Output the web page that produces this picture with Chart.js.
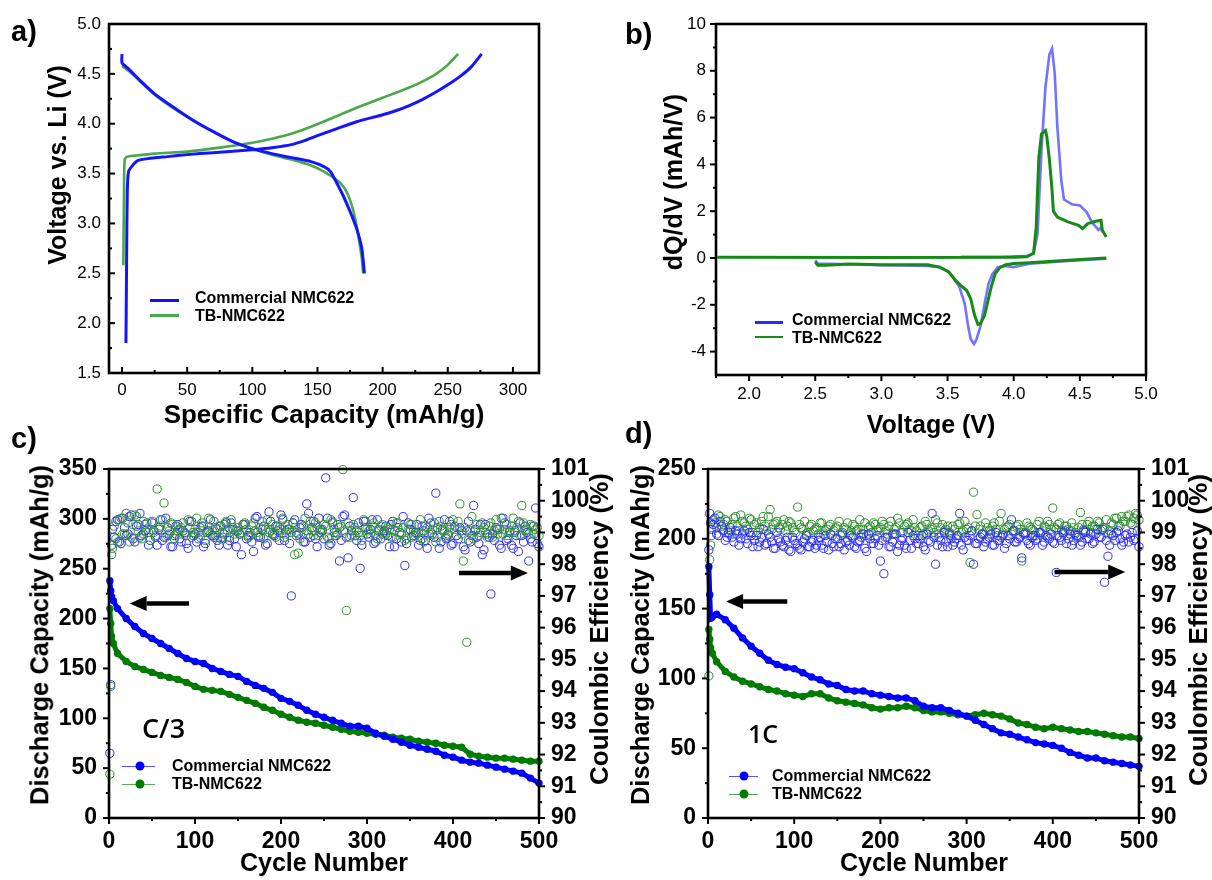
<!DOCTYPE html>
<html><head><meta charset="utf-8">
<script src="https://cdn.jsdelivr.net/npm/chart.js@4.4.1/dist/chart.umd.min.js"></script>
<style>
html,body{margin:0;padding:0;background:#fff;}
#wrap{position:relative;width:1212px;height:880px;overflow:hidden;font-family:"Liberation Sans",Arial,sans-serif;color:#000;}
canvas{position:absolute;}
.t{position:absolute;white-space:nowrap;line-height:1;transform:translate(-50%,-50%);font-weight:bold;}
.r{transform:translate(-50%,-50%) rotate(-90deg);}
.lab{position:absolute;font-weight:bold;font-size:29px;line-height:1;transform:translateY(-50%);}
.lg{position:absolute;font-weight:bold;font-size:16px;line-height:1;transform:translateY(-50%);white-space:nowrap;}
.ln{position:absolute;}
.dot{position:absolute;border-radius:50%;width:9px;height:9px;transform:translate(-50%,-50%);}
.rate{position:absolute;font-family:"Open Sans",sans-serif;font-weight:600;line-height:1;transform:translateY(-50%);}
</style></head><body><div id="wrap">
<canvas id="ca" width="606" height="440" style="left:0;top:0"></canvas>
<canvas id="cb" width="606" height="440" style="left:606px;top:0"></canvas>
<canvas id="cc" width="606" height="440" style="left:0;top:440px"></canvas>
<canvas id="cd" width="606" height="440" style="left:606px;top:440px"></canvas>

<div class="lab" style="left:11px;top:31px">a)</div>
<div class="lab" style="left:625px;top:34px">b)</div>
<div class="lab" style="left:11px;top:438px">c)</div>
<div class="lab" style="left:625px;top:433px">d)</div>

<div class="t r" style="left:57px;top:165px;font-size:25px">Voltage vs. Li (V)</div>
<div class="t" style="left:324px;top:414px;font-size:26px">Specific Capacity (mAh/g)</div>
<div class="t r" style="left:673px;top:182px;font-size:25px">dQ/dV (mAh/V)</div>
<div class="t" style="left:931px;top:424px;font-size:25px">Voltage (V)</div>
<div class="t r" style="left:40px;top:635px;font-size:25.5px">Discharge Capacity (mAh/g)</div>
<div class="t r" style="left:599px;top:629px;font-size:26px">Coulombic Efficiency (%)</div>
<div class="t" style="left:324px;top:862px;font-size:25px">Cycle Number</div>
<div class="t r" style="left:641px;top:635px;font-size:25.5px">Discharge Capacity (mAh/g)</div>
<div class="t r" style="left:1198px;top:630px;font-size:26px">Coulombic Efficiency (%)</div>
<div class="t" style="left:924px;top:862px;font-size:25px">Cycle Number</div>

<div class="rate" style="left:142px;top:727px;font-size:27px">C/3</div>
<div class="rate" style="left:748px;top:733px;font-size:25px">1C</div>

<!-- legends -->
<div class="ln" style="left:150px;top:298.5px;width:29px;height:3px;background:#1010ff"></div>
<div class="lg" style="left:195px;top:298px">Commercial NMC622</div>
<div class="ln" style="left:150px;top:314px;width:29px;height:2.5px;background:#4aa84a"></div>
<div class="lg" style="left:195px;top:316px">TB-NMC622</div>

<div class="ln" style="left:755px;top:320.5px;width:28px;height:3.5px;background:#2a2aff"></div>
<div class="lg" style="left:792px;top:320px">Commercial NMC622</div>
<div class="ln" style="left:755px;top:336px;width:28px;height:2px;background:#178c17"></div>
<div class="lg" style="left:792px;top:338px">TB-NMC622</div>

<div class="ln" style="left:122px;top:765.5px;width:33px;height:1.5px;background:#5555ff"></div>
<div class="dot" style="left:140px;top:766px;background:#0000ff"></div>
<div class="lg" style="left:172px;top:766px">Commercial NMC622</div>
<div class="ln" style="left:122px;top:783.5px;width:33px;height:1.5px;background:#5aa85a"></div>
<div class="dot" style="left:140px;top:784px;background:#007a00"></div>
<div class="lg" style="left:172px;top:784px">TB-NMC622</div>

<div class="ln" style="left:729px;top:775.5px;width:29px;height:1.5px;background:#5555ff"></div>
<div class="dot" style="left:744px;top:776px;background:#0000ff"></div>
<div class="lg" style="left:772px;top:776px">Commercial NMC622</div>
<div class="ln" style="left:729px;top:793.5px;width:29px;height:1.5px;background:#5aa85a"></div>
<div class="dot" style="left:744px;top:794px;background:#007a00"></div>
<div class="lg" style="left:772px;top:794px">TB-NMC622</div>
</div>
<script>
// ================= DATA =================
// Panel a: voltage profiles (capacity mAh/g, voltage V)
const aCommChargeCap = [3, 3.5, 4, 5, 8, 12, 20, 35, 50, 70, 90, 100, 115, 130, 140, 150, 165, 180, 200, 210, 220, 230, 240, 250, 260, 268, 276];
const aCommChargeV   = [1.80, 2.60, 3.30, 3.52, 3.58, 3.63, 3.65, 3.67, 3.69, 3.71, 3.73, 3.74, 3.76, 3.79, 3.83, 3.88, 3.95, 4.02, 4.09, 4.13, 4.18, 4.24, 4.31, 4.39, 4.48, 4.57, 4.70];
const aCommDisCap    = [0, 0, 5, 15, 25, 40, 55, 70, 85, 100, 115, 130, 145, 155, 160, 165, 170, 175, 180, 184, 186];
const aCommDisV      = [4.70, 4.61, 4.55, 4.42, 4.30, 4.16, 4.03, 3.92, 3.82, 3.75, 3.70, 3.66, 3.62, 3.57, 3.52, 3.40, 3.27, 3.12, 2.95, 2.75, 2.50];
const aTBChargeCap   = [1, 1.5, 2, 4, 10, 25, 50, 75, 100, 115, 130, 145, 160, 180, 200, 220, 230, 240, 250, 258];
const aTBChargeV     = [2.58, 3.30, 3.64, 3.67, 3.68, 3.70, 3.72, 3.76, 3.81, 3.85, 3.90, 3.97, 4.05, 4.16, 4.26, 4.36, 4.42, 4.49, 4.59, 4.70];
const aTBDisCap      = [0, 5, 15, 25, 40, 55, 70, 85, 100, 115, 130, 145, 155, 162, 168, 173, 177, 180, 182, 184, 185];
const aTBDisV        = [4.58, 4.53, 4.41, 4.29, 4.15, 4.03, 3.92, 3.82, 3.75, 3.69, 3.64, 3.58, 3.52, 3.46, 3.40, 3.30, 3.15, 2.98, 2.82, 2.65, 2.50];
const aXTicks = [0, 50, 100, 150, 200, 250, 300];
const aYTicks = [1.5, 2.0, 2.5, 3.0, 3.5, 4.0, 4.5, 5.0];

// Panel b: dQ/dV (voltage V, dQ/dV mAh/V)
const bCommChargeV = [3.60, 3.90, 4.10, 4.15, 4.18, 4.21, 4.24, 4.27, 4.29, 4.31, 4.33, 4.36, 4.38, 4.44, 4.50, 4.55, 4.59, 4.64, 4.66, 4.67];
const bCommChargeQ = [0.05, 0.05, 0.08, 0.2, 1.0, 4.6, 7.3, 8.7, 8.95, 7.9, 5.6, 3.3, 2.5, 2.3, 2.25, 1.97, 1.54, 1.2, 1.3, 1.1];
const bCommDisV    = [4.70, 4.41, 4.12, 4.00, 3.94, 3.88, 3.84, 3.81, 3.78, 3.75, 3.72, 3.70, 3.675, 3.655, 3.63, 3.59, 3.54, 3.50, 3.44, 3.35, 3.17, 3.00, 2.76, 2.52, 2.50];
const bCommDisQ    = [-0.03, -0.13, -0.24, -0.39, -0.34, -0.39, -0.67, -1.1, -1.96, -2.89, -3.46, -3.67, -3.46, -2.89, -1.96, -1.24, -0.81, -0.56, -0.39, -0.34, -0.32, -0.31, -0.27, -0.24, -0.1];
const bTBChargeV   = [1.76, 3.00, 4.00, 4.10, 4.15, 4.17, 4.19, 4.21, 4.24, 4.25, 4.27, 4.29, 4.30, 4.33, 4.41, 4.49, 4.52, 4.56, 4.62, 4.66, 4.67, 4.70];
const bTBChargeQ   = [0.03, 0.02, 0.03, 0.05, 0.2, 1.3, 4.3, 5.3, 5.45, 5.2, 4.2, 2.9, 2.0, 1.75, 1.54, 1.4, 1.26, 1.47, 1.57, 1.61, 1.19, 0.9];
const bTBDisV      = [4.70, 4.41, 4.12, 4.00, 3.94, 3.90, 3.86, 3.83, 3.80, 3.78, 3.75, 3.73, 3.705, 3.675, 3.645, 3.60, 3.56, 3.51, 3.44, 3.35, 3.17, 3.00, 2.76, 2.58, 2.52, 2.50];
const bTBDisQ      = [0.0, -0.1, -0.2, -0.24, -0.29, -0.39, -0.67, -1.24, -1.96, -2.46, -2.79, -2.84, -2.46, -1.74, -1.39, -1.17, -0.96, -0.6, -0.39, -0.29, -0.29, -0.29, -0.26, -0.31, -0.31, -0.17];
const bXTicks = [2.0, 2.5, 3.0, 3.5, 4.0, 4.5, 5.0];
const bYTicks = [-4, -2, 0, 2, 4, 6, 8, 10];

// Panels c, d: cycling. Capacity sampled at cycles 1,2,3,5,10,20,...,500
const capCycles = [1, 2, 3, 5];
for (let c = 10; c <= 500; c += 10) capCycles.push(c);
const cCommCap = [238, 228, 222, 218,
  210, 200, 192, 185, 180, 175, 170, 165, 160, 157,
  155, 150, 147, 144, 142, 137, 133, 130, 126, 120,
  117, 113, 108, 104, 101, 98, 95, 92, 92, 90,
  85, 82, 79, 76, 73, 71, 69, 67, 63, 61,
  58, 56, 55, 53, 51, 49, 47, 45, 40, 35];
const cTBCap = [210, 195, 182, 175,
  165, 157, 152, 149, 146, 143, 141, 139, 136, 132,
  129, 128, 127, 124, 121, 118, 115, 111, 108, 104,
  101, 98, 96, 95, 93, 91, 89, 87, 86, 85,
  84, 83, 81, 80, 79, 77, 76, 75, 73, 72,
  71, 64, 62, 61, 60, 60, 59, 58, 57, 57];
const dCommCap = [180, 160, 143, 144,
  146, 142, 136, 129, 123, 118, 113, 110, 108, 107,
  104, 101, 99, 96, 95, 92, 91, 91, 89, 88,
  87, 86, 86, 84, 80, 79, 79, 77, 75, 73,
  70, 67, 64, 61, 60, 58, 56, 54, 53, 52,
  50, 47, 45, 43, 43, 41, 40, 39, 38, 37];
const dTBCap = [135, 128, 122, 118,
  112, 105, 101, 98, 96, 94, 92, 91, 89, 88,
  87, 89, 89, 86, 84, 83, 82, 81, 79, 78,
  79, 79, 80, 79, 77, 76, 76, 75, 74, 73,
  74, 75, 74, 73, 71, 68, 67, 65, 64, 65,
  64, 63, 62, 62, 61, 60, 59, 58, 58, 57];

// Coulombic efficiency, set 1 at cycles 1,2,3,4,8,...,500 ; set 2 at cycles 6,10,...,498
const ceCycles = [1, 2, 3];
for (let c = 4; c <= 500; c += 4) ceCycles.push(c);
const ceCycles2 = [];
for (let c = 6; c <= 498; c += 4) ceCycles2.push(c);

const cCommCE = [92.04, 94.20, 98.60,
 99.10, 99.35, 98.70, 99.45, 98.90, 99.50, 98.80, 99.20, 99.60, 98.95,
 99.30, 98.75, 99.05, 98.60, 99.40, 98.85, 99.15, 98.55, 98.90, 99.25,
 98.70, 99.00, 98.50, 99.35, 98.95, 98.80, 99.20, 98.65, 99.05, 98.90,
 99.15, 98.60, 98.85, 99.30, 98.75, 99.10, 98.55, 98.95, 99.25, 98.80,
 99.00, 98.40, 99.50, 98.85, 99.20, 98.65, 99.35, 98.90, 99.05, 99.55,
 98.75, 99.10, 97.00, 99.40, 98.95, 99.25, 98.70, 99.60, 99.15, 98.80,
 99.45, 99.05, 100.72, 98.60, 99.30, 98.90, 98.10, 99.50, 98.85, 99.20,
 100.10, 98.75, 97.87, 99.35, 98.95, 99.10, 98.65, 99.40, 98.80, 99.05,
 98.90, 99.25, 98.55, 99.15, 98.70, 97.96, 99.30, 98.85, 99.00, 98.60,
 99.20, 98.75, 99.45, 98.95, 100.24, 98.50, 99.10, 98.80, 99.35, 98.65,
 98.90, 99.15, 98.55, 99.05, 98.70, 99.85, 98.85, 99.25, 98.45, 98.95,
 97.06, 98.75, 99.10, 98.50, 99.30, 98.80, 98.60, 99.05, 98.40, 98.90,
 99.20, 98.10, 98.70, 99.77, 98.55];
const cCommCE2 = [
 98.85, 99.40, 98.65, 99.15, 98.95, 99.55, 98.70, 99.25, 98.90, 99.05,
 98.60, 99.30, 98.85, 99.10, 98.75, 99.45, 98.95, 98.55, 99.20, 98.80,
 99.05, 98.65, 99.35, 98.90, 98.70, 99.15, 98.55, 99.00, 99.40, 98.85,
 98.75, 99.20, 98.95, 98.60, 99.30, 98.80, 99.05, 98.30, 99.25, 98.90,
 98.70, 99.45, 98.85, 99.10, 98.60, 99.65, 98.95, 99.20, 98.75, 99.40,
 99.05, 98.65, 99.30, 98.90, 99.15, 98.70, 99.90, 98.85, 99.35, 98.55,
 99.10, 98.80, 99.45, 98.65, 99.00, 99.25, 98.75, 99.55, 98.20, 99.05,
 98.90, 99.30, 98.60, 99.15, 98.85, 99.40, 98.70, 99.05, 98.95, 99.20,
 98.55, 99.35, 98.80, 99.00, 99.50, 98.65, 99.10, 98.90, 99.25, 98.75,
 99.05, 98.50, 99.30, 98.85, 99.15, 98.70, 99.40, 98.95, 98.60, 99.20,
 98.80, 99.05, 98.45, 99.35, 98.90, 99.10, 98.65, 98.30, 99.25, 98.85,
 98.95, 99.15, 98.60, 99.45, 98.75, 99.05, 98.50, 98.90, 99.30, 98.70,
 99.00, 98.80, 99.20, 98.65];
const cTBCE = [91.38, 94.15, 98.30,
 98.50, 98.80, 99.40, 98.95, 99.60, 98.70, 99.25, 99.50, 98.85, 99.35,
 99.10, 98.75, 99.00, 100.37, 99.20, 99.93, 98.90, 99.30, 98.80, 99.05,
 99.15, 98.95, 99.40, 98.85, 99.10, 99.00, 99.30, 98.75, 99.45, 99.05,
 98.90, 99.20, 99.00, 99.35, 98.85, 99.15, 99.05, 98.95, 99.25, 99.10,
 98.90, 99.30, 99.00, 99.15, 98.80, 99.40, 99.05, 98.95, 99.20, 99.10,
 98.85, 99.25, 99.00, 98.30, 98.35, 99.15, 99.45, 98.95, 99.05, 99.30,
 98.90, 99.10, 99.20, 98.80, 99.35, 99.00, 99.15, 100.98, 96.54, 98.85,
 99.25, 99.05, 98.90, 99.40, 99.10, 98.95, 99.30, 98.80, 99.20, 99.00,
 99.15, 98.85, 99.05, 99.30, 98.95, 98.75, 99.10, 99.25, 98.90, 99.00,
 98.80, 99.20, 98.95, 99.10, 98.70, 99.35, 99.05, 98.85, 99.15, 99.40,
 98.90, 99.90, 98.10, 95.54, 99.05, 98.80, 99.25, 99.00, 99.15, 98.85,
 99.30, 99.05, 98.95, 99.45, 99.10, 98.90, 99.20, 99.00, 99.35, 99.85,
 99.05, 98.95, 99.20, 99.10, 98.90];
const cTBCE2 = [
 99.20, 98.70, 99.45, 98.95, 99.30, 98.85, 99.55, 99.05, 98.80, 99.25,
 99.00, 99.35, 98.90, 99.15, 99.40, 98.85, 99.05, 99.25, 98.95, 99.10,
 99.30, 98.90, 99.15, 99.00, 99.45, 98.85, 99.20, 99.05, 98.95, 99.35,
 99.10, 98.80, 99.25, 99.05, 99.40, 98.95, 99.15, 99.00, 99.30, 98.85,
 99.20, 99.05, 98.90, 99.35, 99.10, 99.00, 99.25, 98.85, 99.15, 99.45,
 98.95, 99.10, 99.30, 99.00, 98.80, 99.20, 99.05, 99.35, 98.90, 99.15,
 99.00, 99.25, 98.85, 99.40, 99.10, 98.95, 99.20, 99.05, 99.30, 98.90,
 99.15, 99.00, 98.75, 99.35, 99.05, 99.20, 98.90, 99.10, 99.25, 98.95,
 99.10, 98.85, 99.30, 99.00, 99.15, 98.80, 99.25, 99.05, 98.95, 99.40,
 98.70, 99.15, 99.00, 99.30, 98.85, 99.20, 99.05, 98.90, 99.25, 99.10,
 99.35, 98.95, 99.15, 98.75, 99.50, 99.05, 98.90, 99.30, 99.00, 99.20,
 98.85, 99.40, 99.10, 98.95, 99.25, 99.00, 99.45, 99.15, 98.90, 99.30,
 99.10, 99.25, 98.95, 99.15];
const dCommCE = [98.45, 99.60, 99.30,
 99.10, 99.45, 98.90, 99.20, 98.75, 99.00, 98.85, 99.05, 98.60, 98.95,
 98.80, 99.00, 98.55, 98.90, 98.70, 99.10, 98.65, 98.85, 98.50, 99.00,
 98.70, 98.55, 98.85, 98.40, 98.75, 98.60, 98.45, 98.80, 98.55, 98.70,
 98.50, 98.75, 98.60, 98.90, 98.45, 98.65, 98.80, 98.55, 98.95, 98.70,
 98.60, 98.85, 98.50, 98.75, 98.95, 98.40, 98.80, 98.65, 98.90, 98.10,
 97.70, 98.85, 98.55, 98.95, 98.40, 98.75, 98.60, 99.00, 98.50, 98.80,
 98.65, 98.90, 98.45, 98.75, 99.60, 98.00, 98.85, 98.55, 98.70, 98.95,
 98.60, 98.80, 99.60, 98.45, 98.75, 98.90, 98.00, 98.65, 98.85, 98.55,
 98.80, 98.95, 98.60, 98.75, 98.85, 98.50, 98.90, 99.40, 98.70, 98.80,
 98.20, 98.95, 98.65, 98.85, 98.75, 99.00, 98.60, 98.90, 98.80, 98.70,
 97.74, 98.85, 99.00, 98.65, 98.95, 98.75, 98.90, 98.60, 99.05, 98.80,
 98.95, 98.70, 99.10, 98.85, 97.43, 98.25, 98.95, 98.75, 99.05, 98.60,
 98.90, 98.70, 99.00, 98.80, 98.55];
const dCommCE2 = [
 99.25, 98.95, 99.35, 99.05, 98.85, 99.15, 98.70, 98.95, 98.80, 99.05,
 98.65, 98.90, 98.75, 98.55, 98.85, 98.60, 98.95, 98.70, 98.50, 98.80,
 98.60, 98.75, 98.45, 98.85, 98.65, 98.50, 98.70, 98.90, 98.55, 98.75,
 98.60, 98.85, 98.50, 98.70, 98.95, 98.55, 98.80, 98.65, 98.45, 98.75,
 98.90, 98.55, 98.70, 98.85, 98.50, 98.95, 98.65, 98.80, 98.60, 98.75,
 98.85, 98.55, 98.70, 98.95, 98.60, 98.80, 98.50, 98.75, 98.90, 98.65,
 98.80, 98.55, 98.95, 98.70, 98.85, 98.60, 98.75, 99.00, 98.55, 98.80,
 98.70, 98.90, 98.60, 98.85, 98.75, 99.05, 98.65, 98.80, 98.95, 98.70,
 98.85, 98.60, 99.00, 98.75, 98.90, 98.65, 98.80, 99.05, 98.70, 98.85,
 98.95, 98.75, 98.60, 98.90, 98.80, 99.00, 98.70, 98.85, 98.95, 98.65,
 98.90, 98.75, 99.05, 98.80, 98.60, 98.95, 98.85, 98.70, 99.00, 98.80,
 98.65, 98.95, 98.85, 99.10, 98.75, 98.60, 98.90, 99.00, 98.80, 98.70,
 98.95, 98.85, 98.75, 99.05];
const dTBCE = [94.48, 98.14, 98.60,
 98.90, 99.30, 99.55, 99.10, 99.40, 98.95, 99.25, 99.50, 99.05, 99.35,
 99.20, 99.45, 99.00, 99.30, 99.15, 99.50, 99.05, 99.72, 99.25, 99.35,
 99.10, 99.40, 99.20, 99.30, 99.05, 99.80, 99.15, 99.35, 99.00, 99.25,
 99.10, 98.95, 99.30, 99.05, 99.20, 98.90, 99.15, 99.35, 99.00, 99.10,
 98.95, 99.25, 99.05, 99.40, 99.10, 98.90, 99.20, 99.30, 99.05, 99.15,
 99.25, 98.95, 99.35, 99.10, 99.45, 99.00, 99.20, 99.30, 99.05, 99.15,
 98.90, 99.20, 99.35, 99.05, 99.15, 99.40, 98.95, 99.25, 99.10, 99.00,
 99.20, 98.90, 99.30, 99.05, 99.10, 98.05, 100.27, 99.56, 99.20, 98.95,
 99.15, 99.05, 99.30, 98.90, 99.60, 99.10, 99.20, 98.95, 99.05, 99.25,
 98.10, 99.00, 99.20, 99.10, 98.90, 99.35, 99.05, 99.15, 99.25, 99.77,
 99.10, 99.30, 98.95, 99.20, 99.05, 99.15, 98.85, 99.63, 99.10, 99.25,
 99.00, 99.20, 99.35, 99.05, 99.15, 98.95, 99.30, 99.45, 99.20, 99.50,
 99.35, 99.55, 99.25, 99.60, 99.40];
const dTBCE2 = [
 99.40, 99.15, 99.50, 99.25, 99.35, 99.05, 99.45, 99.20, 99.55, 99.30,
 99.10, 99.40, 99.25, 99.00, 99.35, 99.20, 99.50, 99.10, 99.30, 99.15,
 99.25, 99.05, 99.35, 99.15, 99.00, 99.25, 99.10, 98.95, 99.20, 99.05,
 99.15, 99.30, 98.95, 99.10, 99.25, 99.05, 99.20, 98.90, 99.15, 99.30,
 99.05, 99.20, 99.10, 98.95, 99.30, 99.15, 99.00, 99.25, 99.10, 99.35,
 99.05, 99.20, 98.95, 99.15, 99.30, 99.00, 99.25, 99.10, 99.40, 99.05,
 99.15, 98.95, 99.25, 99.10, 99.00, 99.30, 99.15, 99.05, 99.20, 98.90,
 99.10, 99.25, 99.00, 99.35, 99.15, 99.05, 99.20, 99.10, 98.95, 99.30,
 99.05, 99.20, 99.10, 99.35, 98.95, 99.15, 99.25, 99.05, 99.20, 99.10,
 99.00, 99.30, 99.15, 99.05, 99.25, 98.95, 99.20, 99.35, 99.10, 99.15,
 99.25, 99.05, 99.20, 99.10, 99.30, 99.00, 99.15, 99.25, 99.05, 99.35,
 99.20, 99.10, 99.30, 99.15, 99.40, 99.05, 99.25, 99.45, 99.20, 99.35,
 99.50, 99.30, 99.45, 99.55];
const cycXTicks = [0, 100, 200, 300, 400, 500];
const cYTicks = [0, 50, 100, 150, 200, 250, 300, 350];
const dYTicks = [0, 50, 100, 150, 200, 250];
const ceTicks = [90, 91, 92, 93, 94, 95, 96, 97, 98, 99, 100, 101];

// ================= HELPERS =================
Chart.defaults.font.family = '"Liberation Sans", Arial, sans-serif';
Chart.defaults.color = '#000';

function pts(xs, ys) { return xs.map((x, i) => ({x: x, y: ys[i]})); }
function joinGap(a, b) { return a.concat([{x: a[a.length - 1].x, y: null}], b); }
function half(list) { const out = []; for (let i = 0; i < list.length - 1; i++) out.push((list[i] + list[i + 1]) / 2); return out; }

const frame = {
  id: 'frame',
  afterDatasetsDraw(chart, args, o) {
    const ctx = chart.ctx, ca = chart.chartArea;
    ctx.save();
    ctx.strokeStyle = '#000';
    ctx.fillStyle = '#000';
    ctx.lineCap = 'butt';
    (o.marks || []).forEach(m => {
      const s = chart.scales[m.scale];
      const d = m.dir === 'in' ? -1 : 1;
      const draw = (v, len, w) => {
        const p = s.getPixelForValue(v);
        ctx.lineWidth = w;
        ctx.beginPath();
        if (m.side === 'bottom') { ctx.moveTo(p, ca.bottom); ctx.lineTo(p, ca.bottom + d * len); }
        else if (m.side === 'left') { ctx.moveTo(ca.left, p); ctx.lineTo(ca.left - d * len, p); }
        else if (m.side === 'right') { ctx.moveTo(ca.right, p); ctx.lineTo(ca.right + d * len, p); }
        ctx.stroke();
      };
      m.major.forEach(v => draw(v, m.len, 2));
      (m.minor || []).forEach(v => draw(v, m.minorLen, 2));
    });
    ctx.lineWidth = 2.6;
    ctx.strokeRect(ca.left, ca.top, ca.right - ca.left, ca.bottom - ca.top);
    (o.arrows || []).forEach(a => {
      const xs = chart.scales.x, ys = chart.scales[a.axis];
      const x1 = xs.getPixelForValue(a.from), x2 = xs.getPixelForValue(a.to), y = ys.getPixelForValue(a.y);
      const dir = Math.sign(x2 - x1), hl = 17, hw = 7.5;
      ctx.lineWidth = 4.5;
      ctx.beginPath(); ctx.moveTo(x1, y); ctx.lineTo(x2 - dir * hl, y); ctx.stroke();
      ctx.beginPath(); ctx.moveTo(x2, y); ctx.lineTo(x2 - dir * hl, y - hw); ctx.lineTo(x2 - dir * hl, y + hw); ctx.closePath(); ctx.fill();
    });
    ctx.restore();
  }
};

function scale(min, max, ticks, fmt, font, pad, fit, pos) {
  return {
    type: 'linear', position: pos, min: min, max: max,
    afterBuildTicks: s => { s.ticks = ticks.map(v => ({value: v})); },
    afterFit: s => { if (s.isHorizontal()) s.height = fit; else s.width = fit; },
    grid: {display: false, drawTicks: false},
    border: {display: false},
    ticks: {autoSkip: false, maxRotation: 0, padding: pad, color: '#000', font: font, callback: v => fmt(v)}
  };
}
const f1 = v => Number(v).toFixed(1);
const f0 = v => String(v);
const thin = {family: '"Liberation Sans", Arial, sans-serif', size: 17};
const bold = {family: '"Liberation Sans", Arial, sans-serif', size: 23, weight: 'bold'};
const base = {responsive: false, animation: false, devicePixelRatio: 1, events: []};

// ================= PANEL A =================
new Chart(document.getElementById('ca'), {
  type: 'scatter',
  data: {datasets: [
    {data: joinGap(pts(aCommChargeCap, aCommChargeV), pts(aCommDisCap, aCommDisV)), showLine: true, spanGaps: false, borderColor: '#1414ff', borderWidth: 3, pointRadius: 0, tension: 0.2},
    {data: joinGap(pts(aTBChargeCap, aTBChargeV), pts(aTBDisCap, aTBDisV)), showLine: true, spanGaps: false, borderColor: '#4aa84a', borderWidth: 2.6, pointRadius: 0, tension: 0.2}
  ]},
  options: Object.assign({}, base, {
    layout: {padding: {left: 0, top: 24, right: 67, bottom: 0}},
    scales: {
      x: scale(-10, 320, aXTicks, f0, thin, 7, 67, 'bottom'),
      y: scale(1.5, 5.0, aYTicks, f1, thin, 8, 109, 'left')
    },
    plugins: {legend: {display: false}, tooltip: {enabled: false},
      frame: {marks: [
        {scale: 'x', side: 'bottom', dir: 'in', major: aXTicks, minor: half(aXTicks), len: 6, minorLen: 3},
        {scale: 'y', side: 'left', dir: 'in', major: aYTicks, minor: half(aYTicks), len: 6, minorLen: 3}
      ]}}
  }),
  plugins: [frame]
});

// ================= PANEL B =================
new Chart(document.getElementById('cb'), {
  type: 'scatter',
  data: {datasets: [
    {data: joinGap(pts(bTBChargeV, bTBChargeQ), pts(bTBDisV, bTBDisQ)), showLine: true, spanGaps: false, borderColor: '#158a15', borderWidth: 3, pointRadius: 0},
    {data: joinGap(pts(bCommChargeV, bCommChargeQ), pts(bCommDisV, bCommDisQ)), showLine: true, spanGaps: false, borderColor: 'rgba(90,90,255,0.85)', borderWidth: 2.6, pointRadius: 0}
  ]},
  options: Object.assign({}, base, {
    layout: {padding: {left: 0, top: 24, right: 66, bottom: 0}},
    scales: {
      x: scale(1.75, 5.0, bXTicks, f1, thin, 9, 65, 'bottom'),
      y: scale(-5, 10, bYTicks, f0, thin, 10, 110, 'left')
    },
    plugins: {legend: {display: false}, tooltip: {enabled: false},
      frame: {marks: [
        {scale: 'x', side: 'bottom', dir: 'out', major: bXTicks, minor: half(bXTicks).concat([1.75]), len: 6, minorLen: 3},
        {scale: 'y', side: 'left', dir: 'out', major: bYTicks, minor: half(bYTicks), len: 6, minorLen: 3}
      ]}}
  }),
  plugins: [frame]
});

// ================= PANELS C, D =================
function cyclePanel(id, commCap, tbCap, commCE, commCE2, tbCE, tbCE2, yMax, yTicks, yFit, y2Fit, arrows, ceOrder) {
  const ring = (col) => ({yAxisID: 'y2', showLine: false, pointRadius: 4.1, pointBorderWidth: 1, pointBorderColor: col, pointBackgroundColor: 'rgba(0,0,0,0)', clip: false});
  const ceBlue = Object.assign({data: pts(ceCycles, commCE).concat(pts(ceCycles2, commCE2))}, ring('#2b2bff'));
  const ceGreen = Object.assign({data: pts(ceCycles, tbCE).concat(pts(ceCycles2, tbCE2))}, ring('#2d8f2d'));
  const ds = [
    {data: pts(capCycles, commCap), yAxisID: 'y', showLine: true, borderColor: '#0000ff', borderWidth: 5, pointRadius: 3.7, pointBorderWidth: 0, pointBackgroundColor: '#0000ff', clip: false},
    {data: pts(capCycles, tbCap), yAxisID: 'y', showLine: true, borderColor: '#007a00', borderWidth: 5, pointRadius: 3.7, pointBorderWidth: 0, pointBackgroundColor: '#007a00', clip: false}
  ].concat(ceOrder === 'green' ? [ceGreen, ceBlue] : [ceBlue, ceGreen]);
  new Chart(document.getElementById(id), {
    type: 'scatter',
    data: {datasets: ds},
    options: Object.assign({}, base, {
      layout: {padding: {left: 0, top: 29, right: 0, bottom: 0}},
      scales: {
        x: scale(0, 500, cycXTicks, f0, bold, 10, 62, 'bottom'),
        y: scale(0, yMax, yTicks, f0, bold, 12, yFit, 'left'),
        y2: scale(90, 101, ceTicks, f0, bold, 12, y2Fit, 'right')
      },
      plugins: {legend: {display: false}, tooltip: {enabled: false},
        frame: {marks: [
          {scale: 'x', side: 'bottom', dir: 'out', major: cycXTicks, minor: half(cycXTicks), len: 6, minorLen: 3},
          {scale: 'y', side: 'left', dir: 'out', major: yTicks, minor: half(yTicks), len: 6, minorLen: 3},
          {scale: 'y2', side: 'right', dir: 'out', major: ceTicks, minor: half(ceTicks), len: 6, minorLen: 3}
        ], arrows: arrows}}
    }),
    plugins: [frame]
  });
}
cyclePanel('cc', cCommCap, cTBCap, cCommCE, cCommCE2, cTBCE, cTBCE2, 350, cYTicks, 109, 67,
  [{from: 93, to: 24, y: 215, axis: 'y'}, {from: 407, to: 487, y: 97.72, axis: 'y2'}], 'green');
cyclePanel('cd', dCommCap, dTBCap, dCommCE, dCommCE2, dTBCE, dTBCE2, 250, dYTicks, 102, 73,
  [{from: 92, to: 21, y: 155, axis: 'y'}, {from: 402, to: 484, y: 97.75, axis: 'y2'}], 'blue');
</script>
</body></html>
